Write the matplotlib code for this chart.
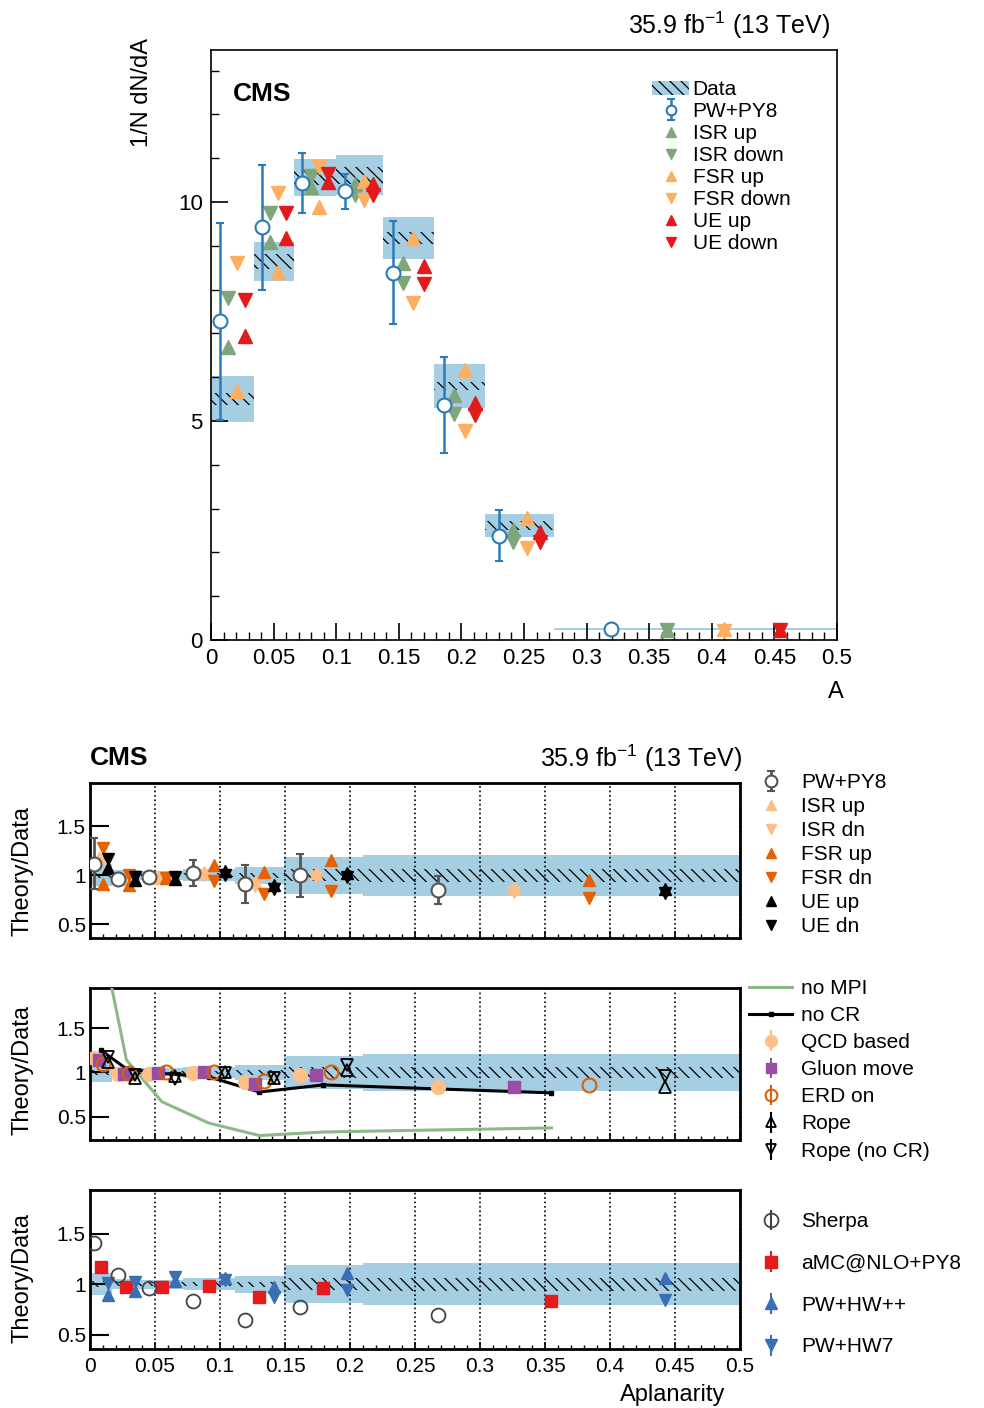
import numpy as np
import matplotlib.pyplot as plt
from matplotlib.ticker import MultipleLocator, FuncFormatter, FixedLocator
from matplotlib.patches import Patch

plt.rcParams['font.family'] = ['Liberation Sans', 'DejaVu Sans']
plt.rcParams['mathtext.default'] = 'regular'
plt.rcParams['hatch.linewidth'] = 0.9

# ---- top panel: normalised distribution ----
top_edges = [0, 0.034, 0.066, 0.1, 0.137, 0.178, 0.219, 0.274, 0.5]
data = [5.50, 8.64, 10.56, 10.61, 9.17, 5.80, 2.62, 0.25]
data_tot = [0.53, 0.44, 0.42, 0.46, 0.48, 0.50, 0.26, 0.03]
data_stat = [0.14, 0.17, 0.17, 0.19, 0.14, 0.10, 0.10, 0.01]
pw = [7.28, 9.42, 10.44, 10.24, 8.39, 5.37, 2.38, 0.24]
pw_err = [2.25, 1.42, 0.68, 0.41, 1.17, 1.10, 0.58, 0.02]
isr_up = [6.69, 9.09, 10.34, 10.40, 8.60, 5.59, 2.52, 0.23]
isr_dn = [7.81, 9.76, 10.59, 10.15, 8.14, 5.16, 2.24, 0.23]
fsr_up = [5.69, 8.41, 9.89, 10.47, 9.17, 6.16, 2.78, 0.25]
fsr_dn = [8.60, 10.21, 10.81, 10.05, 7.70, 4.78, 2.09, 0.21]
ue_up = [6.94, 9.17, 10.45, 10.40, 8.54, 5.42, 2.46, 0.23]
ue_dn = [7.76, 9.76, 10.63, 10.15, 8.13, 5.14, 2.23, 0.23]

# ---- ratio panels ----
ratio_edges = [0, 0.0169, 0.0392, 0.0715, 0.1115, 0.1492, 0.21, 0.5]
band_tot = [0.11, 0.05, 0.045, 0.06, 0.085, 0.19, 0.21]
band_stat = [0.03, 0.02, 0.02, 0.02, 0.025, 0.06, 0.065]

# panel 1
r_pw = [1.115, 0.96, 0.98, 1.02, 0.91, 1.00, 0.85]
r_pw_err = [0.26, 0.03, 0.03, 0.13, 0.19, 0.22, 0.145]
r_isr_up = [1.18, 0.96, 0.97, 1.03, 0.93, 1.02, 0.87]
r_isr_dn = [1.12, 0.96, 0.97, 1.00, 0.89, 0.98, 0.83]
r_fsr_up = [0.91, 0.90, 0.97, 1.107, 1.03, 1.15, 0.95]
r_fsr_dn = [1.28, 1.00, 0.97, 0.94, 0.81, 0.84, 0.77]
r_ue_up = [1.07, 0.95, 0.96, 1.04, 0.90, 1.02, 0.86]
r_ue_dn = [1.17, 0.98, 0.98, 1.00, 0.86, 0.98, 0.82]

# panel 2
no_mpi = [2.55, 1.14, 0.67, 0.43, 0.29, 0.33, 0.376]
no_cr = [1.25, 1.04, 0.99, 0.95, 0.78, 0.86, 0.77]
qcd_based = [1.16, 0.98, 0.98, 0.99, 0.89, 0.97, 0.84]
gluon_move = [1.14, 0.98, 0.99, 1.00, 0.875, 0.97, 0.84]
erd_on = [1.10, 0.99, 1.00, 1.01, 0.90, 1.00, 0.86]
rope = [1.12, 0.94, 0.955, 1.01, 0.94, 1.03, 0.84]
rope_nocr = [1.17, 0.97, 0.925, 0.99, 0.94, 1.08, 0.96]

# panel 3
sherpa = [1.41, 1.09, 0.96, 0.83, 0.65, 0.77, 0.70]
amc = [1.17, 0.97, 0.97, 0.985, 0.87, 0.96, 0.835]
hwpp = [0.89, 0.93, 1.03, 1.06, 0.97, 1.11, 1.065]
hw7 = [1.01, 1.02, 1.07, 1.04, 0.87, 0.94, 0.845]

W, H = 984, 1408
fig = plt.figure(figsize=(W / 100, H / 100), dpi=100)


def box(x0, y0, x1, y1):
    return [x0 / W, 1 - y1 / H, (x1 - x0) / W, (y1 - y0) / H]


def frac_pos(edges, f):
    e = np.array(edges)
    return e[:-1] + f * (e[1:] - e[:-1])


fmt = FuncFormatter(lambda v, p: f"{v:g}")

BLUE_BOX = '#a6cee3'
BLUE = '#2b7bba'
GREEN = '#7fa57a'
ORANGE = '#fdae61'
RED = '#e31a1c'

# ================= top panel =================
ax = fig.add_axes(box(211, 50, 837, 640))
e = np.array(top_edges)
widths = np.diff(e)
d = np.array(data)
ax.bar(e[:-1], 2 * np.array(data_tot), bottom=d - np.array(data_tot), width=widths,
       align='edge', color=BLUE_BOX, linewidth=0, zorder=1)
ax.bar(e[:-1], 2 * np.array(data_stat), bottom=d - np.array(data_stat), width=widths,
       align='edge', facecolor='none', edgecolor='black', hatch='\\\\\\', linewidth=0, zorder=2)

ms = 9.5
h_pw = ax.errorbar(frac_pos(top_edges, 0.2), pw, yerr=pw_err, fmt='o', ms=10, mfc='white',
                   mec=BLUE, mew=1.5, ecolor=BLUE, elinewidth=1.8, capsize=3, zorder=5)
x_isr = frac_pos(top_edges, 0.4)
x_fsr = frac_pos(top_edges, 0.6)
x_ue = frac_pos(top_edges, 0.8)
h1, = ax.plot(x_isr, isr_up, '^', color=GREEN, ms=ms, ls='none', zorder=4)
h2, = ax.plot(x_isr, isr_dn, 'v', color=GREEN, ms=ms, ls='none', zorder=4)
h3, = ax.plot(x_fsr, fsr_up, '^', color=ORANGE, ms=ms, ls='none', zorder=4)
h4, = ax.plot(x_fsr, fsr_dn, 'v', color=ORANGE, ms=ms, ls='none', zorder=4)
h5, = ax.plot(x_ue, ue_up, '^', color=RED, ms=ms, ls='none', zorder=4)
h6, = ax.plot(x_ue, ue_dn, 'v', color=RED, ms=ms, ls='none', zorder=4)

ax.set_xlim(0, 0.5)
ax.set_ylim(0, 13.47)
ax.xaxis.set_major_locator(MultipleLocator(0.05))
ax.xaxis.set_minor_locator(MultipleLocator(0.01))
ax.yaxis.set_major_locator(MultipleLocator(5))
ax.yaxis.set_minor_locator(MultipleLocator(1))
ax.xaxis.set_major_formatter(fmt)
ax.yaxis.set_major_formatter(fmt)
ax.tick_params(which='both', direction='in', labelsize=16, top=False, right=False)
ax.tick_params(which='major', length=12, width=1.2, pad=6)
ax.tick_params(which='minor', length=6, width=1.0)
for s in ax.spines.values():
    s.set_linewidth(1.2)

data_patch = Patch(facecolor=BLUE_BOX, edgecolor='black', hatch='\\\\\\', linewidth=0)
ax.legend([data_patch, h_pw, h1, h2, h3, h4, h5, h6],
          ['Data', 'PW+PY8', 'ISR up', 'ISR down', 'FSR up', 'FSR down', 'UE up', 'UE down'],
          loc='upper left', bbox_to_anchor=(0.691, 0.963), frameon=False, fontsize=15,
          labelspacing=0.145, handlelength=1.8, handletextpad=0.15, borderaxespad=0,
          handleheight=0.7, markerscale=0.7)

ax.text(0.035, 0.925, 'CMS', transform=ax.transAxes, fontsize=19, fontweight='bold',
        ha='left', va='center')
fig.text(830 / W, 1 - 25 / H, r'35.9 fb$^{-1}$ (13 TeV)', fontsize=18, ha='right', va='center')
fig.text(142 / W, 1 - 38 / H, '1/N dN/dA', fontsize=17, rotation=90, ha='center', va='top')
fig.text(836 / W, 1 - 692 / H, 'A', fontsize=17, ha='center', va='center')

# ================= ratio panels =================
rc = np.array(ratio_edges)
rw = np.diff(rc)
centers = frac_pos(ratio_edges, 0.5)


def ratio_axes(y0, y1, ylim, labels):
    a = fig.add_axes(box(90, y0, 740, y1))
    bt = np.array(band_tot)
    bs = np.array(band_stat)
    a.bar(rc[:-1], 2 * bt, bottom=1 - bt, width=rw, align='edge', color=BLUE_BOX,
          linewidth=0, zorder=1)
    a.bar(rc[:-1], 2 * bs, bottom=1 - bs, width=rw, align='edge', facecolor='none',
          edgecolor='black', hatch='\\\\\\', linewidth=0, zorder=2)
    a.set_xlim(0, 0.5)
    a.set_ylim(*ylim)
    a.xaxis.set_major_locator(MultipleLocator(0.05))
    a.xaxis.set_minor_locator(MultipleLocator(0.01))
    a.yaxis.set_major_locator(FixedLocator([0.5, 1, 1.5]))
    a.xaxis.set_major_formatter(fmt)
    a.yaxis.set_major_formatter(fmt)
    a.grid(axis='x', which='major', color='black', ls=':', lw=1.2)
    a.tick_params(which='both', direction='in', labelsize=15)
    a.tick_params(axis='y', which='major', length=14, width=1.5, pad=3)
    a.tick_params(axis='x', which='major', length=5, width=1.2)
    a.tick_params(axis='x', which='minor', length=3, width=1.0)
    if not labels:
        a.tick_params(axis='x', labelbottom=False)
    else:
        a.tick_params(axis='x', pad=6)
    for s in a.spines.values():
        s.set_linewidth(2)
    return a


LIGHT = '#fdbe85'
DARK = '#e66101'
GRAY = '#555555'
rms = 9
leg_kw = dict(loc='upper left', frameon=False, fontsize=15, handlelength=2.07,
              handletextpad=0.43, borderaxespad=0)

# panel 1
a1 = ratio_axes(783, 938, (0.36, 1.94), False)
g_pw = a1.errorbar(frac_pos(ratio_edges, 0.2), r_pw, yerr=r_pw_err, fmt='o', ms=10, mfc='white',
                   mec=GRAY, mew=1.5, ecolor=GRAY, elinewidth=2, capsize=3, zorder=5)
xi = frac_pos(ratio_edges, 0.4)
xf = frac_pos(ratio_edges, 0.6)
xu = frac_pos(ratio_edges, 0.8)
p1, = a1.plot(xi, r_isr_up, '^', color=LIGHT, ms=rms, ls='none', zorder=4)
p2, = a1.plot(xi, r_isr_dn, 'v', color=LIGHT, ms=rms, ls='none', zorder=4)
p3, = a1.plot(xf, r_fsr_up, '^', color=DARK, ms=rms, ls='none', zorder=4)
p4, = a1.plot(xf, r_fsr_dn, 'v', color=DARK, ms=rms, ls='none', zorder=4)
p5, = a1.plot(xu, r_ue_up, '^', color='black', ms=rms, ls='none', zorder=4)
p6, = a1.plot(xu, r_ue_dn, 'v', color='black', ms=rms, ls='none', zorder=4)
a1.legend([g_pw, p1, p2, p3, p4, p5, p6],
          ['PW+PY8', 'ISR up', 'ISR dn', 'FSR up', 'FSR dn', 'UE up', 'UE dn'],
          bbox_to_anchor=(1.001, 1.116), labelspacing=0.24, markerscale=0.85, **leg_kw)

# panel 2
a2 = ratio_axes(988, 1140, (0.24, 1.95), False)
l_mpi, = a2.plot(centers, no_mpi, '-', color='#8fb88a', lw=2.2, zorder=3)
l_cr, = a2.plot(centers, no_cr, '-', color='black', lw=2.2, marker='s', ms=3, zorder=3)
zero = np.zeros(len(centers))
g_qcd = a2.errorbar(frac_pos(ratio_edges, 0.2), qcd_based, yerr=zero, fmt='o', ms=10,
                    color='#fdc086', ecolor='#fdc086', zorder=4)
g_glu = a2.errorbar(frac_pos(ratio_edges, 0.4), gluon_move, yerr=zero, fmt='s', ms=9,
                    color='#984ea3', ecolor='#984ea3', zorder=4)
g_erd = a2.errorbar(frac_pos(ratio_edges, 0.6), erd_on, yerr=zero, fmt='o', ms=10,
                    mfc='none', mec='#d95f02', mew=1.5, ecolor='#d95f02', zorder=5)
g_rope = a2.errorbar(frac_pos(ratio_edges, 0.8), rope, yerr=zero, fmt='^', ms=rms,
                     mfc='none', mec='black', mew=1.3, ecolor='black', zorder=5)
g_ropen = a2.errorbar(frac_pos(ratio_edges, 0.8), rope_nocr, yerr=zero, fmt='v', ms=rms,
                      mfc='none', mec='black', mew=1.3, ecolor='black', zorder=5)
a2.legend([l_mpi, l_cr, g_qcd, g_glu, g_erd, g_rope, g_ropen],
          ['no MPI', 'no CR', 'QCD based', 'Gluon move', 'ERD on', 'Rope', 'Rope (no CR)'],
          bbox_to_anchor=(1.001, 1.115), labelspacing=0.39, markerscale=0.85, **leg_kw)

# panel 3
a3 = ratio_axes(1190, 1349, (0.36, 1.93), True)
g_sh = a3.errorbar(frac_pos(ratio_edges, 0.2), sherpa, yerr=zero, fmt='o', ms=10, mfc='none',
                   mec='#444444', mew=1.3, ecolor='#444444', zorder=5)
g_amc = a3.errorbar(centers, amc, yerr=zero, fmt='s', ms=9, color='#e41a1c',
                    ecolor='#e41a1c', zorder=4)
g_hpp = a3.errorbar(frac_pos(ratio_edges, 0.8), hwpp, yerr=zero, fmt='^', ms=rms,
                    color='#3a6fb5', ecolor='#3a6fb5', zorder=4)
g_h7 = a3.errorbar(frac_pos(ratio_edges, 0.8), hw7, yerr=zero, fmt='v', ms=rms,
                   color='#3a6fb5', ecolor='#3a6fb5', zorder=4)
a3.legend([g_sh, g_amc, g_hpp, g_h7], ['Sherpa', 'aMC@NLO+PY8', 'PW+HW++', 'PW+HW7'],
          bbox_to_anchor=(1.001, 0.912), labelspacing=1.09, **leg_kw)

fig.text(90 / W, 1 - 758 / H, 'CMS', fontsize=19, fontweight='bold', ha='left', va='center')
fig.text(742 / W, 1 - 758 / H, r'35.9 fb$^{-1}$ (13 TeV)', fontsize=18, ha='right', va='center')
for yc in (871, 1070, 1278):
    fig.text(22 / W, 1 - yc / H, 'Theory/Data', fontsize=17, rotation=90, ha='center', va='center')
fig.text(725 / W, 1 - 1395 / H, 'Aplanarity', fontsize=17, ha='right', va='center')

fig.savefig('out.png', dpi=100)
